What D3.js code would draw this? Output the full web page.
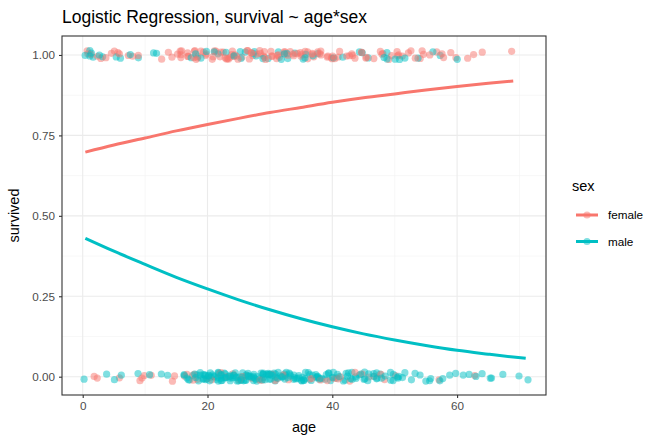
<!DOCTYPE html>
<html>
<head>
<meta charset="utf-8">
<script src="https://cdn.jsdelivr.net/npm/d3@7"></script>
<style>
  html, body { margin: 0; padding: 0; background: #ffffff; }
  svg { display: block; font-family: "Liberation Sans", Arial, Helvetica, sans-serif; }
</style>
</head>
<body>
<svg id="chart" width="650" height="437"></svg>
<script>
// Passenger ages, split by sex and outcome (1 = survived, 0 = died)
const femaleSurvivedAges = [0.75, 0.92, 1, 2, 3, 4, 4.5, 5, 5.5, 6, 7, 8, 9, 13, 14, 14.5, 15, 15.5, 16, 16, 16.5, 17, 17, 17.5, 18, 18, 18.5, 19, 19, 19.5, 20.5, 21, 21.5, 22, 22, 22.5, 23, 23, 23.5, 24, 24, 24, 24.5, 25, 25.5, 26, 26.5, 27, 27, 27.5, 28, 28.5, 29, 29, 29.5, 30, 30, 30.5, 31, 31, 31.5, 32, 32.5, 33, 33, 34, 34.5, 35, 35, 35.5, 36, 36, 36.5, 37, 38, 38, 38.5, 39, 39.5, 40, 40, 40.5, 41, 42, 42.5, 43, 44, 44.5, 45, 45.5, 47, 48, 48.5, 49, 50, 50.5, 51, 52, 52.5, 53, 54, 54.5, 55, 56, 57.5, 58, 59, 60, 62, 63, 64, 69,
  16.2, 17.8, 18.3, 19.7, 21.2, 22.8, 23.6, 24.8, 26.2, 27.8, 29.2, 30.8, 32.2, 33.7, 35.2, 36.8, 38.2, 39.8, 41.3, 43.5, 45.2, 47.6, 49.3, 51.5, 56.5];
const femaleDiedAges = [2, 2.5, 6, 9, 9.5, 10, 11, 14, 14.5, 16, 17, 18, 18, 18.5, 20, 21, 21.5, 22, 23, 24, 25, 25.5, 26, 27, 28, 29, 30, 30.5, 31, 32, 33, 36, 37, 38, 39, 40, 41, 41.5, 43, 44, 45, 45.5, 47, 48, 48.5, 50, 57, 63];
const maleSurvivedAges = [0.42, 0.83, 1, 1.5, 2, 3, 3.5, 5, 6, 8, 9, 11, 12, 17, 18, 19, 20, 21, 22, 23, 24, 25, 25.5, 26, 27, 27.5, 28, 29, 30, 31, 31.5, 32, 32.5, 33, 34, 35, 35.5, 36, 37, 38, 40, 42, 44, 45, 46, 48, 48.5, 49, 50, 51, 52, 54, 56, 57, 60];
const maleDiedAges = [0.3, 4, 5, 6, 9, 11, 13, 14, 16, 16.5, 17, 17.5, 18, 18, 18.5, 19, 19, 19.5, 19.5, 20, 20, 20.5, 20.5, 21, 21, 21.5, 21.5, 22, 22, 22.5, 22.5, 23, 23, 23.5, 23.5, 24, 24, 24.5, 24.5, 25, 25, 25.5, 25.5, 26, 26, 26.5, 26.5, 27, 27, 27.5, 28, 28, 28.5, 28.5, 29, 29, 29.5, 29.5, 30, 30, 30.5, 30.5, 31, 31, 31.5, 32, 32, 32.5, 32.5, 33, 33, 33.5, 34, 34, 34.5, 35, 35, 35.5, 36, 36, 36.5, 37, 37, 37.5, 38, 38, 38.5, 39, 39, 39.5, 40, 40, 40.5, 41, 41.5, 42, 42, 42.5, 43, 43.5, 44, 44, 44.5, 45, 45, 45.5, 46, 46.5, 47, 47, 47.5, 48, 48.5, 49, 49.5, 50, 50.5, 51, 51.5, 52, 52.5, 53.6, 54, 55, 55.5, 56, 57, 58, 59, 59.5, 61, 62, 63, 64, 65, 65.5, 67, 70, 71,
  17.2, 18.2, 18.8, 19.2, 19.8, 20.2, 20.8, 21.2, 21.8, 22.2, 22.8, 23.2, 23.8, 24.2, 24.8, 25.2, 25.8, 26.2, 26.8, 27.2, 27.8, 28.2, 28.8, 29.2, 29.8, 30.2, 30.8, 31.2, 31.8, 32.2, 32.8, 33.2, 33.8, 34.2, 34.8, 35.2, 36.2, 36.8, 37.2, 38.2, 39.2, 40.2, 41.2, 42.8, 44.2, 45.8, 47.2, 49.2, 50.8,
  18.6, 19.4, 20.4, 21.4, 22.4, 23.4, 24.4, 25.4, 26.4, 27.4, 28.4, 29.4, 30.4, 31.4, 33.4, 35.4, 37.4, 39.4, 43.4, 46.8];

// Fitted survival probability along age, per sex
const fitAges = [0.42, 5, 10, 15, 20, 25, 30, 35, 40, 45, 50, 55, 60, 65, 69, 71];
const femaleFit = [0.698, 0.720, 0.742, 0.764, 0.784, 0.803, 0.821, 0.837, 0.853, 0.867, 0.879, 0.891, 0.902, 0.912, 0.919, null];
const maleFit = [0.430, 0.390, 0.349, 0.309, 0.273, 0.239, 0.208, 0.180, 0.155, 0.133, 0.114, 0.097, 0.082, 0.070, 0.061, 0.057];

const xTicks = [0, 20, 40, 60];
const xMinor = [10, 30, 50, 70];
const yTicks = [0, 0.25, 0.5, 0.75, 1];
const yMinor = [0.125, 0.375, 0.625, 0.875];
const sexLevels = ["female", "male"];
const sexColors = ["#F8766D", "#00BFC4"];

const svg = d3.select("#chart");
const panel = { left: 62, top: 36, right: 546, bottom: 395 };

const x = d3.scaleLinear().domain([-3.32, 74.25]).range([panel.left, panel.right]);
const y = d3.scaleLinear().domain([-0.0569, 1.059]).range([panel.bottom, panel.top]);
const color = d3.scaleOrdinal().domain(sexLevels).range(sexColors);

// Title
svg.append("text")
  .attr("x", 62).attr("y", 23)
  .attr("font-size", 17.5).attr("fill", "#000")
  .text("Logistic Regression, survival ~ age*sex");

// Panel background and grid
svg.append("rect")
  .attr("x", panel.left).attr("y", panel.top)
  .attr("width", panel.right - panel.left).attr("height", panel.bottom - panel.top)
  .attr("fill", "#fff");

const grid = svg.append("g");
grid.selectAll(".xminor").data(xMinor).enter().append("line")
  .attr("x1", d => x(d)).attr("x2", d => x(d))
  .attr("y1", panel.top).attr("y2", panel.bottom)
  .attr("stroke", "#F2F2F2").attr("stroke-width", 0.6);
grid.selectAll(".yminor").data(yMinor).enter().append("line")
  .attr("y1", d => y(d)).attr("y2", d => y(d))
  .attr("x1", panel.left).attr("x2", panel.right)
  .attr("stroke", "#F2F2F2").attr("stroke-width", 0.6);
grid.selectAll(".xmajor").data(xTicks).enter().append("line")
  .attr("x1", d => x(d)).attr("x2", d => x(d))
  .attr("y1", panel.top).attr("y2", panel.bottom)
  .attr("stroke", "#EBEBEB").attr("stroke-width", 1.1);
grid.selectAll(".ymajor").data(yTicks).enter().append("line")
  .attr("y1", d => y(d)).attr("y2", d => y(d))
  .attr("x1", panel.left).attr("x2", panel.right)
  .attr("stroke", "#EBEBEB").attr("stroke-width", 1.1);

// Fixed, hash-based jitter so overlapping ages stay visible
function hash01(i, salt) {
  let h = Math.imul(i + 1, 2654435761) ^ Math.imul(salt, 40503);
  h = Math.imul(h ^ (h >>> 15), 2246822519);
  h = Math.imul(h ^ (h >>> 13), 3266489917);
  h ^= h >>> 16;
  return (h >>> 0) / 4294967295;
}
function jitterX(i) { return (hash01(i, 11) - 0.5) * 0.8; }
function jitterY(i) { return (hash01(i, 29) - 0.5) * 0.028; }

const obs = [];
femaleSurvivedAges.forEach(a => obs.push({ age: a, survived: 1, sex: "female" }));
maleSurvivedAges.forEach(a => obs.push({ age: a, survived: 1, sex: "male" }));
femaleDiedAges.forEach(a => obs.push({ age: a, survived: 0, sex: "female" }));
maleDiedAges.forEach(a => obs.push({ age: a, survived: 0, sex: "male" }));
obs.forEach((d, i) => { d.i = i; d.order = hash01(i, 7); });
// mix draw order so neither sex sits entirely on top
obs.sort((a, b) => a.order - b.order);

svg.append("g").selectAll("circle").data(obs).enter().append("circle")
  .attr("cx", d => x(d.age + jitterX(d.i)))
  .attr("cy", d => y(d.survived + jitterY(d.i)))
  .attr("r", 3.6)
  .attr("fill", d => color(d.sex))
  .attr("fill-opacity", 0.5);

// Fitted curves
const line = d3.line()
  .x(d => x(d[0])).y(d => y(d[1]))
  .curve(d3.curveMonotoneX);

[[femaleFit, "female"], [maleFit, "male"]].forEach(([vals, sex]) => {
  svg.append("path")
    .datum(fitAges.map((a, i) => [a, vals[i]]).filter(d => d[1] !== null))
    .attr("d", line)
    .attr("fill", "none")
    .attr("stroke", color(sex))
    .attr("stroke-width", 3);
});

// Panel border
svg.append("rect")
  .attr("x", panel.left).attr("y", panel.top)
  .attr("width", panel.right - panel.left).attr("height", panel.bottom - panel.top)
  .attr("fill", "none").attr("stroke", "#333333").attr("stroke-width", 1.1);

// Axes
const xAxis = svg.append("g")
  .attr("transform", `translate(0,${panel.bottom})`)
  .call(d3.axisBottom(x).tickValues(xTicks).tickSize(3).tickPadding(4).tickFormat(d3.format("d")));
const yAxis = svg.append("g")
  .attr("transform", `translate(${panel.left},0)`)
  .call(d3.axisLeft(y).tickValues(yTicks).tickSize(3).tickPadding(4).tickFormat(d3.format(".2f")));
[xAxis, yAxis].forEach(g => {
  g.select(".domain").remove();
  g.selectAll(".tick line").attr("stroke", "#333333").attr("stroke-width", 1.1);
  g.selectAll(".tick text").attr("fill", "#4D4D4D").attr("font-size", 11.7)
    .attr("font-family", "'Liberation Sans', Arial, sans-serif");
});

// Axis titles
svg.append("text")
  .attr("x", (panel.left + panel.right) / 2).attr("y", 432)
  .attr("text-anchor", "middle").attr("font-size", 14.5).attr("fill", "#000")
  .text("age");
svg.append("text")
  .attr("transform", `translate(19,${(panel.top + panel.bottom) / 2}) rotate(-90)`)
  .attr("text-anchor", "middle").attr("font-size", 14.5).attr("fill", "#000")
  .text("survived");

// Legend
const legend = svg.append("g");
legend.append("text")
  .attr("x", 572).attr("y", 191)
  .attr("font-size", 14.5).attr("fill", "#000")
  .text("sex");
sexLevels.forEach((s, i) => {
  const ky = 215 + i * 26.5;
  legend.append("line")
    .attr("x1", 576).attr("x2", 598).attr("y1", ky).attr("y2", ky)
    .attr("stroke", color(s)).attr("stroke-width", 3);
  legend.append("circle")
    .attr("cx", 587).attr("cy", ky).attr("r", 3.6)
    .attr("fill", color(s)).attr("fill-opacity", 0.5);
  legend.append("text")
    .attr("x", 608).attr("y", ky + 4.2)
    .attr("font-size", 11.7).attr("fill", "#000")
    .text(s);
});
</script>
</body>
</html>
